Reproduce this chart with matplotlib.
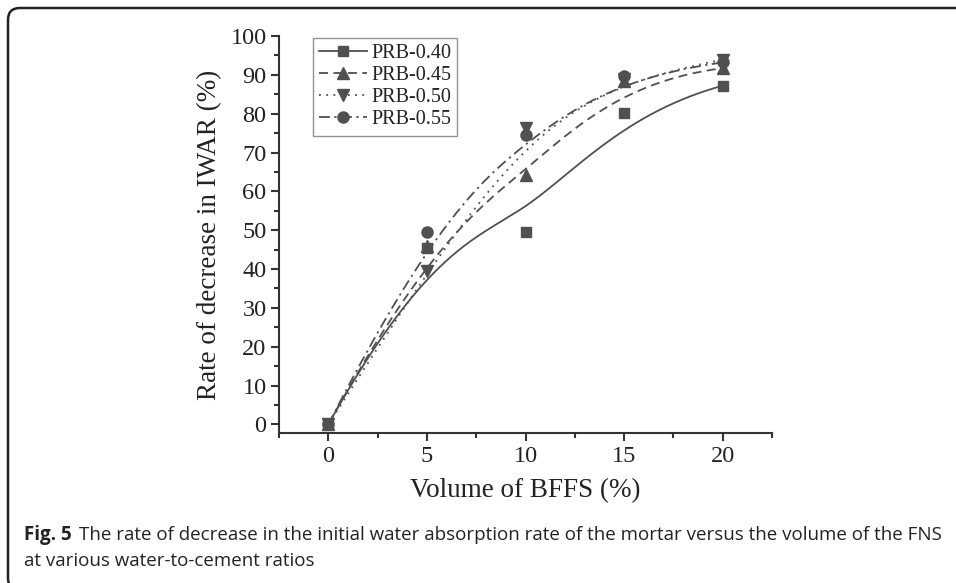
import numpy as np
import matplotlib
matplotlib.use("Agg")
import matplotlib.pyplot as plt
from matplotlib.patches import FancyBboxPatch
from matplotlib.transforms import IdentityTransform
from matplotlib.ticker import MultipleLocator

volume = [0, 5, 10, 15, 20]
prb_040 = [0, 45.5, 49.5, 80.3, 87.2]
prb_045 = [0, 46.0, 64.2, 88.5, 91.7]
prb_050 = [0, 39.6, 76.4, 88.9, 93.9]
prb_055 = [0, 49.5, 74.5, 89.6, 93.2]
labels = ["PRB-0.40", "PRB-0.45", "PRB-0.50", "PRB-0.55"]
x_ticks = [0, 5, 10, 15, 20]
y_ticks = [0, 10, 20, 30, 40, 50, 60, 70, 80, 90, 100]

series = [prb_040, prb_045, prb_050, prb_055]
markers = ["s", "^", "v", "o"]
styles = ["-", (0, (5, 3)), (0, (1, 3)), (0, (6, 2.5, 1.2, 2.5))]
msizes = [7, 8.5, 8.5, 8]

gray = "#505050"
serif = ["Liberation Serif", "DejaVu Serif"]


def bspline(cx, cy, k=3, n=300):
    """Clamped B-spline through control points (Origin-style B-spline line)."""
    cx = np.asarray(cx, float)
    cy = np.asarray(cy, float)
    m = len(cx)
    n_int = m - k - 1
    interior = list(np.linspace(0, 1, n_int + 2)[1:-1])
    t = np.array([0.0] * (k + 1) + interior + [1.0] * (k + 1))
    u = np.linspace(0, 1, n)
    u[-1] = 1 - 1e-12
    N = np.zeros((len(t) - 1, n))
    for i in range(len(t) - 1):
        N[i] = (u >= t[i]) & (u < t[i + 1])
    for d in range(1, k + 1):
        Nn = np.zeros((len(t) - 1 - d, n))
        for i in range(len(t) - 1 - d):
            a = np.zeros(n)
            b = np.zeros(n)
            if t[i + d] != t[i]:
                a = (u - t[i]) / (t[i + d] - t[i]) * N[i]
            if t[i + d + 1] != t[i + 1]:
                b = (t[i + d + 1] - u) / (t[i + d + 1] - t[i + 1]) * N[i + 1]
            Nn[i] = a + b
        N = Nn
    return N.T @ cx, N.T @ cy


fig = plt.figure(figsize=(9.56, 5.83), dpi=100)
ax = fig.add_axes([279/956, 1-433/583, (772-279)/956, (433-36)/583])

for ys, mk, ls, ms, lab in zip(series, markers, styles, msizes, labels):
    bx, by = bspline(volume, ys)
    ax.plot(bx, by, linestyle=ls, color=gray, lw=1.3)
    ax.plot(volume, ys, linestyle="none", marker=mk, ms=ms, color=gray, mec=gray)
    ax.plot([], [], linestyle=ls, marker=mk, ms=ms, color=gray, lw=1.3, label=lab)

ax.set_xlim(-2.5, 22.5)
ax.set_ylim(-2.2, 100)
ax.set_xticks(x_ticks)
ax.set_yticks(y_ticks)
ax.xaxis.set_minor_locator(MultipleLocator(2.5))
ax.yaxis.set_minor_locator(MultipleLocator(5))
for s in ["top", "right"]:
    ax.spines[s].set_visible(False)
for s in ["left", "bottom"]:
    ax.spines[s].set_color("#333333")
    ax.spines[s].set_linewidth(1.5)
ax.tick_params(which="major", direction="out", length=6, width=1.5, color="#333333",
               labelsize=17.5, labelcolor="#222222", pad=3)
ax.tick_params(which="minor", direction="out", length=3.5, width=1.5, color="#333333")
for lab in ax.get_xticklabels() + ax.get_yticklabels():
    lab.set_fontfamily(serif)

ax.set_xlabel("Volume of BFFS (%)", fontsize=19.5, family=serif, color="#222222", labelpad=8)
ax.set_ylabel("Rate of decrease in IWAR (%)", fontsize=19.5, family=serif, color="#222222", labelpad=6)

leg = ax.legend(loc="upper left", bbox_to_anchor=(0.069, 0.995), borderaxespad=0,
                prop={"family": serif, "size": 14.5}, frameon=True, fancybox=False,
                edgecolor="#777777", handlelength=2.4, handletextpad=0.2,
                labelspacing=0.15, borderpad=0.3, numpoints=1)
leg.get_frame().set_linewidth(1.0)
for t in leg.get_texts():
    t.set_color("#222222")

# rounded border of the figure panel (pixel coordinates)
border = FancyBboxPatch((8, -7), 1100, 583 - 8 + 7,
                        boxstyle="round,pad=0,rounding_size=12",
                        transform=IdentityTransform(), fill=False,
                        edgecolor="#222222", lw=1.8, clip_on=False)
fig.patches.append(border)

cap_font = ["Open Sans", "DejaVu Sans"]
cap_size = 13.5
fig.text(24/956, 1-535/583, "Fig. 5", fontsize=cap_size, fontweight="bold", family=cap_font,
         va="center", ha="left", color="#222222")
fig.text(79/956, 1-535/583,
         "The rate of decrease in the initial water absorption rate of the mortar versus the volume of the FNS",
         fontsize=cap_size, family=cap_font, va="center", ha="left", color="#222222")
fig.text(24/956, 1-561/583, "at various water-to-cement ratios",
         fontsize=cap_size, family=cap_font, va="center", ha="left", color="#222222")

fig.savefig("out.png", dpi=100)
